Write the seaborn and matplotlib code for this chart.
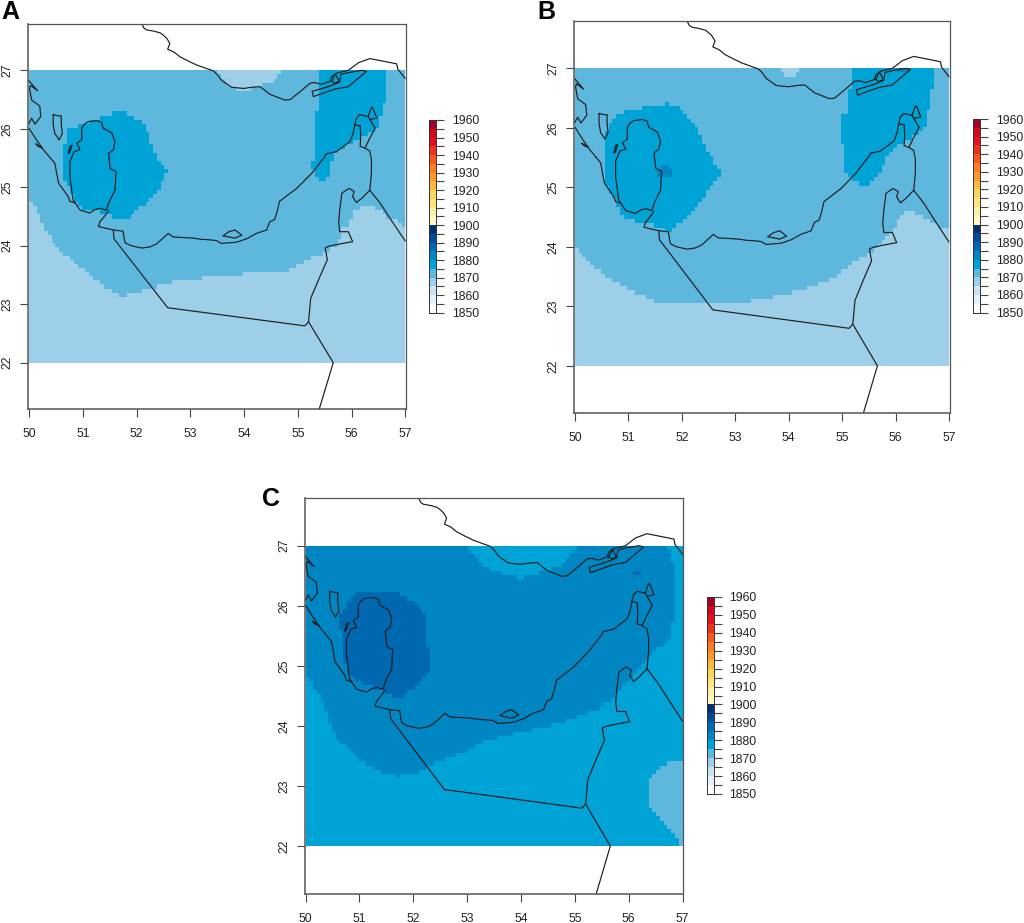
import numpy as np
import seaborn as sns
import matplotlib
matplotlib.use('Agg')
import matplotlib.pyplot as plt
from matplotlib.colors import ListedColormap, BoundaryNorm
from matplotlib.path import Path

############################## colour scale ##############################

scale_edges = list(range(1850, 1965, 5))
scale_colors = ['#ffffff', '#e4f1f9', '#c8e3f2', '#9dd0e8', '#5eb8dd', '#00a3d6',
                '#0086c2', '#0068b0', '#004b96', '#00306f',
                '#fff8c0', '#fff0a8', '#fee481', '#fed460', '#fdb83f', '#fc9a2d',
                '#fb7d25', '#f55a1f', '#ee3020', '#e3101e', '#cc0a20', '#a50026']
x_ticks = [50, 51, 52, 53, 54, 55, 56, 57]
y_ticks = [22, 23, 24, 25, 26, 27]

############################## coast and borders (lon, lat) ##############################

iran_coast = [(52.10, 27.79), (52.14, 27.72), (52.19, 27.69), (52.32, 27.67), (52.44, 27.64), (52.50, 27.60),
              (52.56, 27.55), (52.62, 27.46), (52.58, 27.36), (52.70, 27.31), (52.81, 27.23), (52.96, 27.16),
              (53.12, 27.09), (53.43, 26.99), (53.50, 26.93), (53.58, 26.83), (53.77, 26.71), (53.88, 26.70),
              (53.99, 26.69), (54.15, 26.71), (54.30, 26.72), (54.48, 26.59), (54.76, 26.49),
              (54.86, 26.50), (55.05, 26.64), (55.23, 26.78), (55.32, 26.79), (55.44, 26.76), (55.60, 26.81),
              (55.63, 26.89), (55.72, 26.95), (55.94, 27.00), (56.13, 27.13), (56.34, 27.20), (56.62, 27.15),
              (56.84, 27.11), (56.86, 27.02), (57.00, 26.86)]
qeshm = [(55.27, 26.64), (55.29, 26.55), (55.69, 26.68), (55.94, 26.72), (56.12, 26.86), (56.28, 26.98),
         (56.19, 27.00), (55.94, 26.96), (55.80, 26.93), (55.78, 26.80), (55.60, 26.73), (55.27, 26.64)]
hormuz_loop = [(55.63, 26.81), (55.70, 26.94), (55.77, 26.81), (55.69, 26.78), (55.63, 26.81)]
south_coast = [(51.48, 24.60), (51.40, 24.50), (51.32, 24.41), (51.29, 24.33), (51.42, 24.30), (51.57, 24.27),
               (51.75, 24.25), (51.77, 24.12), (51.79, 24.05), (51.90, 24.00), (52.10, 23.96), (52.25, 23.98),
               (52.37, 24.03), (52.53, 24.16), (52.59, 24.21), (52.68, 24.15), (53.06, 24.13), (53.20, 24.11),
               (53.37, 24.10), (53.48, 24.09), (53.58, 24.04), (53.86, 24.06), (54.05, 24.12),
               (54.23, 24.21), (54.42, 24.27), (54.48, 24.41), (54.57, 24.45), (54.62, 24.60), (54.66, 24.76),
               (54.98, 24.98), (55.26, 25.24), (55.50, 25.52), (55.53, 25.57), (55.72, 25.61),
               (55.97, 25.78), (56.03, 25.92), (56.06, 26.07), (56.16, 26.05), (56.17, 25.87),
               (56.16, 25.70), (56.25, 25.67), (56.34, 25.62), (56.37, 25.47), (56.37, 25.24), (56.34, 24.95),
               (56.53, 24.73), (56.78, 24.38), (57.00, 24.08)]
musandam = [(56.06, 26.07), (56.09, 26.18), (56.15, 26.24), (56.31, 26.21), (56.34, 26.16), (56.44, 26.01),
            (56.34, 25.84), (56.25, 25.67)]
musandam_tip = [(56.31, 26.21), (56.37, 26.37), (56.40, 26.35), (56.47, 26.18), (56.34, 26.16)]
oman_enclave = [(56.02, 24.07), (55.94, 24.24), (55.78, 24.24), (55.76, 24.40), (55.78, 24.61), (55.82, 24.90),
                (55.95, 24.98), (56.05, 24.93), (56.02, 24.84), (56.09, 24.74), (56.19, 24.81), (56.34, 24.95)]
uae_border = [(56.02, 24.07), (55.78, 24.03), (55.57, 23.99), (55.51, 23.96), (55.55, 23.76),
              (55.41, 23.47), (55.24, 23.10), (55.20, 22.70), (55.13, 22.63), (52.58, 22.94),
              (51.58, 24.12), (51.57, 24.26)]
oman_border = [(55.20, 22.70), (55.66, 22.00), (55.40, 21.21)]
abu_island = [(53.61, 24.17), (53.72, 24.24), (53.83, 24.27), (53.96, 24.18), (53.83, 24.13), (53.61, 24.17)]
qatar = [(50.86, 24.73), (50.82, 24.78), (50.76, 25.18), (50.76, 25.44), (50.84, 25.61), (50.95, 25.64),
         (50.89, 25.75), (50.98, 25.81), (50.98, 26.01), (51.03, 26.08), (51.10, 26.12), (51.26, 26.14), (51.35, 26.11),
         (51.38, 26.01), (51.54, 25.93), (51.60, 25.78), (51.57, 25.64), (51.48, 25.58), (51.51, 25.32),
         (51.62, 25.27), (51.60, 24.95), (51.48, 24.73), (51.44, 24.61), (51.32, 24.64), (51.23, 24.62),
         (51.13, 24.56), (50.95, 24.61), (50.86, 24.73)]
saudi_coast = [(50.00, 26.01), (50.14, 25.81), (50.27, 25.64), (50.48, 25.41), (50.55, 25.07),
               (50.73, 24.84), (50.76, 24.76), (50.86, 24.73)]
saudi_north = [(49.99, 26.83), (50.16, 26.65), (50.03, 26.74), (50.01, 26.69), (50.05, 26.49), (50.20, 26.39),
               (50.22, 26.21), (50.11, 26.08), (50.05, 26.18), (49.99, 26.08)]
tarut = [(50.13, 25.74), (50.25, 25.67), (50.17, 25.70), (50.13, 25.74)]
bahrain = [(50.45, 26.24), (50.55, 26.22), (50.60, 26.22), (50.60, 26.07), (50.62, 25.92), (50.56, 25.81),
           (50.48, 25.92), (50.45, 26.07), (50.45, 26.24)]
qatar_inlet = [(50.73, 25.58), (50.76, 25.70), (50.80, 25.72), (50.76, 25.60), (50.73, 25.58)]
outlines = [iran_coast, qeshm, hormuz_loop, south_coast, musandam, musandam_tip, oman_enclave,
            uae_border, oman_border, abu_island, qatar, saudi_coast, saudi_north, tarut, bahrain, qatar_inlet]

############################## zones: (value, outline) ##############################

a_mid = [(50.00, 24.78), (50.17, 24.56), (50.30, 24.33), (50.33, 24.21), (50.64, 23.87), (51.01, 23.59),
         (51.32, 23.36), (51.66, 23.16), (51.79, 23.15), (52.25, 23.27), (52.75, 23.39), (53.30, 23.45),
         (53.92, 23.51), (54.79, 23.56), (55.16, 23.76), (55.57, 23.90), (55.75, 24.04), (55.82, 24.27),
         (55.95, 24.38), (56.02, 24.56), (56.24, 24.68), (56.43, 24.64), (56.62, 24.53), (56.81, 24.44),
         (57.00, 24.33), (57.00, 27.00), (50.00, 27.00)]
a_top = [(53.43, 27.00), (53.58, 26.86), (53.89, 26.64), (54.11, 26.68), (54.30, 26.73), (54.54, 26.83), (54.76, 27.00)]
a_qatar = [(50.73, 26.01), (51.26, 26.15), (51.60, 26.28), (51.85, 26.26), (52.16, 26.07), (52.25, 25.81),
           (52.41, 25.47), (52.56, 25.27), (52.50, 25.10), (52.37, 24.90), (52.16, 24.73), (51.85, 24.47),
           (51.69, 24.44), (51.44, 24.56), (51.01, 24.61), (50.86, 24.78), (50.73, 25.07), (50.65, 25.10),
           (50.65, 25.75), (50.73, 25.81)]
a_east = [(55.42, 27.00), (56.68, 27.00), (56.68, 26.44), (56.59, 26.41), (56.59, 26.21), (56.50, 26.18),
          (56.50, 26.04), (56.35, 25.92), (56.19, 25.84), (55.78, 25.64), (55.66, 25.52), (55.59, 25.24),
          (55.55, 25.13), (55.44, 25.11), (55.31, 25.24), (55.24, 25.41), (55.35, 25.44), (55.35, 26.28),
          (55.42, 26.29)]
panel_a_zones = [(1872, a_mid), (1867, a_top), (1877, a_qatar), (1877, a_east)]

b_mid = [(50.00, 24.15), (50.03, 24.01), (50.28, 23.72), (50.65, 23.47), (51.03, 23.28), (51.65, 23.02),
         (52.02, 23.04), (52.52, 23.08), (53.14, 23.06), (53.89, 23.19), (54.76, 23.42), (55.19, 23.72),
         (55.50, 23.89), (55.78, 24.09), (55.97, 24.34), (56.13, 24.54), (56.25, 24.62), (56.44, 24.54),
         (56.69, 24.40), (57.00, 24.30), (57.00, 27.00), (50.00, 27.00)]
b_top = [(53.82, 27.00), (54.23, 27.00), (54.10, 26.89), (53.95, 26.87)]
b_qatar = [(50.56, 25.79), (50.65, 26.10), (50.84, 26.25), (51.27, 26.34), (51.74, 26.41), (51.93, 26.35),
           (52.24, 26.04), (52.39, 25.79), (52.64, 25.34), (52.74, 25.25), (52.61, 25.09), (52.33, 24.72),
           (51.99, 24.42), (51.77, 24.26), (51.59, 24.33), (50.90, 24.47), (50.78, 24.72), (50.58, 25.06)]
b_spot = [(51.49, 25.26), (51.68, 25.39), (51.82, 25.31), (51.80, 25.17), (51.62, 25.17)]
b_east = [(55.16, 27.00), (56.75, 27.00), (56.73, 26.65), (56.65, 26.62), (56.65, 26.27), (56.56, 26.25),
          (56.56, 26.03), (56.42, 25.90), (56.12, 25.74), (55.91, 25.62), (55.81, 25.46), (55.72, 25.26),
          (55.63, 25.15), (55.47, 25.00), (55.38, 25.03), (55.01, 25.26), (55.00, 26.19), (55.08, 26.20),
          (55.08, 26.63), (55.16, 26.66)]
b_qeshm = [(56.03, 26.98), (56.26, 27.00), (56.12, 26.90)]
panel_b_zones = [(1872, b_mid), (1867, b_top), (1877, b_qatar), (1882, b_spot), (1877, b_east), (1882, b_qeshm)]

c_mid = [(50.00, 24.90), (50.19, 24.59), (50.40, 24.26), (50.46, 24.04), (50.59, 23.79), (50.90, 23.51),
         (51.33, 23.26), (51.70, 23.15), (52.07, 23.23), (52.38, 23.37), (52.82, 23.51), (53.37, 23.76),
         (54.24, 23.94), (54.86, 24.09), (55.48, 24.29), (55.76, 24.54), (55.94, 24.71), (56.03, 24.76),
         (56.28, 25.04), (56.41, 25.21), (56.75, 25.43), (56.85, 25.84), (56.85, 26.65), (56.78, 26.87),
         (56.68, 27.00), (55.04, 27.00), (54.76, 26.68), (54.36, 26.54), (54.02, 26.47), (53.90, 26.47),
         (53.43, 26.59), (53.19, 26.79), (53.00, 27.00), (50.00, 27.00)]
c_qatar = [(50.59, 25.57), (50.62, 25.79), (50.84, 26.15), (50.96, 26.22), (51.73, 26.22), (52.01, 26.04),
           (52.26, 25.82), (52.26, 25.29), (52.33, 25.25), (52.33, 25.04), (52.26, 24.87), (52.01, 24.65),
           (51.70, 24.44), (51.45, 24.59), (50.90, 24.76), (50.77, 24.93), (50.68, 25.21), (50.68, 25.57)]
c_spot = [(56.10, 26.58), (56.22, 26.58), (56.22, 26.53), (56.10, 26.53)]
c_patch = [(57.00, 23.37), (56.78, 23.40), (56.56, 23.29), (56.44, 23.15), (56.34, 23.01), (56.35, 22.76),
           (56.50, 22.51), (56.75, 22.29), (56.95, 22.09), (56.95, 22.00), (57.00, 22.00)]
panel_c_zones = [(1882, c_mid), (1887, c_qatar), (1887, c_spot), (1872, c_patch)]

############################## layout, in pixels of the 1024x923 figure ##############################

W, H = 1024, 923
panels = [
    dict(name='A', base=1867, zones=panel_a_zones, box=(28, 405.7, 24, 409), x50=29.0, x57=405.3, y27=70.3, y22=362.7,
         cbar=(429.3, 436, 120, 312.7), letter=(1, 12)),
    dict(name='B', base=1867, zones=panel_b_zones, box=(574, 949.7, 21, 412.6), x50=575.0, x57=949.0, y27=68.3, y22=365.8,
         cbar=(973.3, 980, 119, 312.5), letter=(537, 12)),
    dict(name='C', base=1877, zones=panel_c_zones, box=(305, 683.3, 498, 893.5), x50=305.5, x57=682.5, y27=545.7, y22=846,
         cbar=(707, 713.7, 597, 794), letter=(262, 499)),
]

sns.set_style('white')
plt.rcParams['font.family'] = ['Liberation Sans', 'DejaVu Sans']

cmap = ListedColormap(scale_colors)
norm = BoundaryNorm(scale_edges, cmap.N)
# cells of the model grid, about 0.07 degrees
lon_edges = np.linspace(50, 57, 101)
lat_edges = np.linspace(22, 27, 72)
lon_mid = (lon_edges[:-1] + lon_edges[1:]) / 2
lat_mid = (lat_edges[:-1] + lat_edges[1:]) / 2


def px_axes(fig, left, right, top, bottom):
    '''makes an axes from pixel edges'''
    return fig.add_axes([left / W, 1 - bottom / H, (right - left) / W, (bottom - top) / H])


def zone_grid(base, zones):
    '''paints the zone outlines in order onto the grid'''
    lon_grid, lat_grid = np.meshgrid(lon_mid, lat_mid)
    pts = np.column_stack([lon_grid.ravel(), lat_grid.ravel()])
    grid = np.full(lon_grid.shape, float(base))
    for value, outline in zones:
        inside = Path(outline + [outline[0]]).contains_points(pts).reshape(lon_grid.shape)
        grid[inside] = value
    return grid


def draw_panel(fig, p):
    left, right, top, bottom = p['box']
    ax = px_axes(fig, left, right, top, bottom)
    ax.pcolormesh(lon_edges, lat_edges, zone_grid(p['base'], p['zones']), cmap=cmap, norm=norm)

    # coast and borders go on top of the field
    for line in outlines:
        lon, lat = zip(*line)
        sns.lineplot(x=list(lon), y=list(lat), sort=False, estimator=None, color='#1c1c1c',
                     linewidth=0.85, ax=ax, legend=False)

    x_scale = (p['x57'] - p['x50']) / 7
    y_scale = (p['y22'] - p['y27']) / 5
    ax.set_xlim(50 + (left - p['x50']) / x_scale, 57 + (right - p['x57']) / x_scale)
    ax.set_ylim(22 - (bottom - p['y22']) / y_scale, 27 + (p['y27'] - top) / y_scale)
    ax.set_xticks(x_ticks)
    ax.set_yticks(y_ticks)
    ax.tick_params(axis='x', length=5.8, width=0.8, color='#444444', labelcolor='#222222', labelsize=8.8, pad=8, bottom=True)
    ax.tick_params(axis='y', length=5.8, width=0.8, color='#444444', labelcolor='#222222', labelsize=8.8, pad=5, left=True)
    for label in ax.get_yticklabels():
        label.set_rotation(90)
        label.set_va('center')
    for side, spine in ax.spines.items():
        spine.set_visible(True)
        spine.set_color('#555555')
        spine.set_linewidth(1.1 if side in ('left', 'bottom') else 0.9)

    # colour bar
    cax = px_axes(fig, *p['cbar'])
    mids = np.array(scale_edges[:-1]).reshape(-1, 1) + 2.5
    sns.heatmap(mids, cmap=cmap, norm=norm, cbar=False, ax=cax, xticklabels=False, yticklabels=False)
    cax.invert_yaxis()
    cax.yaxis.tick_right()
    cax.set_yticks(range(len(scale_edges)))
    cax.set_yticklabels([str(v) if v % 10 == 0 else '' for v in scale_edges], rotation=0)
    cax.tick_params(axis='y', right=True, left=False, length=5.8, width=0.8, color='#444444',
                    labelcolor='#222222', labelsize=8.8, pad=5.5)
    for spine in cax.spines.values():
        spine.set_visible(True)
        spine.set_color('#333333')
        spine.set_linewidth(0.7)

    fig.text(p['letter'][0] / W, 1 - p['letter'][1] / H, p['name'], fontsize=18, fontweight='bold',
             color='black', ha='left', va='center')


fig = plt.figure(figsize=(W / 100, H / 100), dpi=100)
for p in panels:
    draw_panel(fig, p)
fig.savefig('out.png', dpi=100)
